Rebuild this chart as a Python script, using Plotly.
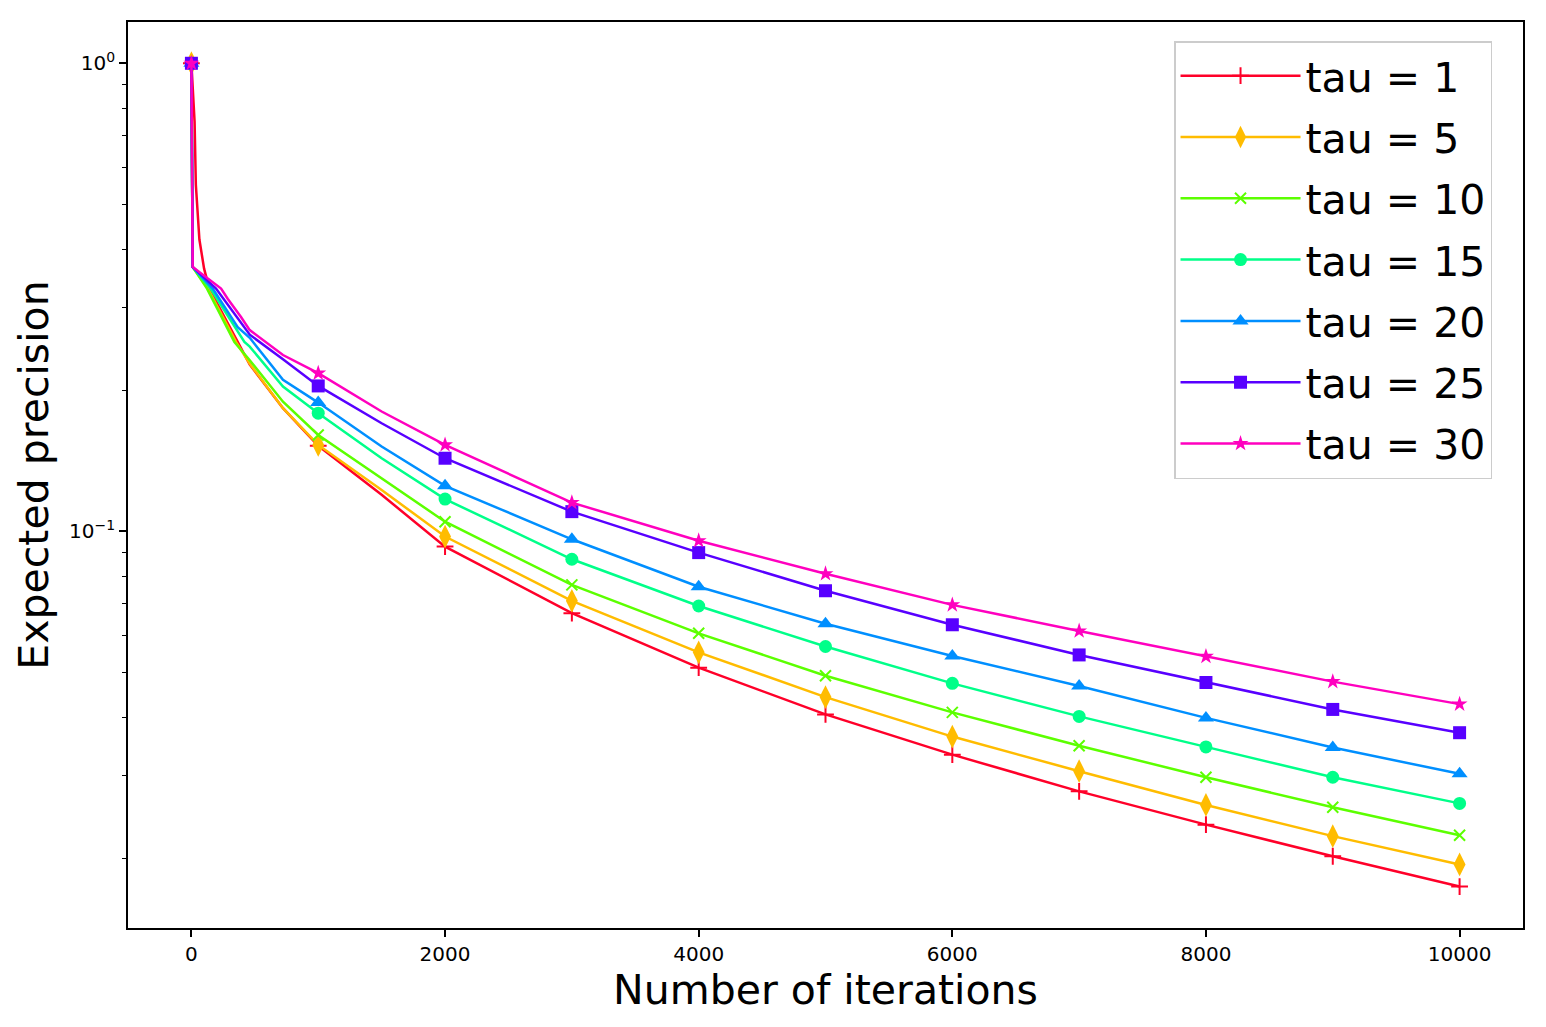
import plotly.graph_objects as go

# ---------------- data ----------------
series_names = ["tau = 1", "tau = 5", "tau = 10", "tau = 15", "tau = 20", "tau = 25", "tau = 30"]

iters_tau1 = [0, 25, 35, 63, 100, 141, 365, 460, 722, 1000, 1500, 2000, 3000, 4000, 5000, 6000, 7000, 8000, 9000, 10000]
prec_tau1 = [1.0, 0.75, 0.55, 0.42, 0.364, 0.33, 0.2538, 0.227, 0.1832, 0.1522, 0.1196, 0.0927,
             0.0668, 0.0511, 0.0406, 0.0333, 0.0278, 0.0236, 0.0202, 0.0174]

iters_tau5 = [0, 10, 130, 352, 460, 722, 1000, 1500, 2000, 3000, 4000, 5000, 6000, 7000, 8000, 9000, 10000]
prec_tau5 = [1.0, 0.367, 0.33, 0.2538, 0.228, 0.1832, 0.1529, 0.1225, 0.0974,
             0.0710, 0.0551, 0.0442, 0.0364, 0.0307, 0.0260, 0.0223, 0.0194]

iters_tau10 = [0, 10, 123, 339, 460, 722, 1000, 1500, 2000, 3000, 4000, 5000, 6000, 7000, 8000, 9000, 10000]
prec_tau10 = [1.0, 0.367, 0.33, 0.2538, 0.232, 0.1891, 0.1606, 0.1298, 0.1048,
              0.0768, 0.0605, 0.0491, 0.0410, 0.0348, 0.0298, 0.0257, 0.0224]

iters_tau15 = [0, 10, 150, 418, 460, 722, 1000, 1500, 2000, 3000, 4000, 5000, 6000, 7000, 8000, 9000, 10000]
prec_tau15 = [1.0, 0.367, 0.33, 0.2538, 0.248, 0.2037, 0.1787, 0.1432, 0.1171,
              0.0871, 0.0692, 0.0567, 0.0473, 0.0402, 0.0346, 0.0298, 0.0262]

iters_tau20 = [0, 10, 168, 365, 460, 722, 1000, 1500, 2000, 3000, 4000, 5000, 6000, 7000, 8000, 9000, 10000]
prec_tau20 = [1.0, 0.367, 0.33, 0.273, 0.259, 0.2106, 0.1883, 0.1517, 0.1250,
              0.0961, 0.0761, 0.0634, 0.0541, 0.0467, 0.0399, 0.0345, 0.0303]

iters_tau25 = [0, 10, 194, 391, 460, 722, 1000, 1500, 2000, 3000, 4000, 5000, 6000, 7000, 8000, 9000, 10000]
prec_tau25 = [1.0, 0.367, 0.33, 0.280, 0.263, 0.2331, 0.2044, 0.1701, 0.1432,
              0.1101, 0.0900, 0.0746, 0.0631, 0.0544, 0.0475, 0.0416, 0.0371]

iters_tau30 = [0, 10, 234, 286, 391, 460, 722, 1000, 1500, 2000, 3000, 4000, 5000, 6000, 7000, 8000, 9000, 10000]
prec_tau30 = [1.0, 0.367, 0.33, 0.314, 0.287, 0.269, 0.238, 0.2176, 0.1802, 0.1529,
              0.1151, 0.0954, 0.0811, 0.0696, 0.0612, 0.0540, 0.0477, 0.0427]

x_tick_vals = [0, 2000, 4000, 6000, 8000, 10000]
x_tick_text = ["0", "2000", "4000", "6000", "8000", "10000"]
y_tick_vals = [0.1, 1.0]
y_tick_text = ["10<sup>\u22121</sup>", "10<sup>0</sup>"]
y_minor_vals = [0.02, 0.03, 0.04, 0.05, 0.06, 0.07, 0.08, 0.09,
                0.2, 0.3, 0.4, 0.5, 0.6, 0.7, 0.8, 0.9]
marker_every = 1000

# ---------------- styles ----------------
colors = ["#ff0029", "#ffbc00", "#5cff00", "#00ff89", "#008fff", "#5800ff", "#ff00bf"]
symbols = ["cross-thin", "diamond-tall", "x-thin", "circle", "triangle-up", "square", "star"]
sizes = [12, 17, 11, 13, 14, 13, 12]
thin = [True, False, True, False, False, False, False]

all_x = [iters_tau1, iters_tau5, iters_tau10, iters_tau15, iters_tau20, iters_tau25, iters_tau30]
all_y = [prec_tau1, prec_tau5, prec_tau10, prec_tau15, prec_tau20, prec_tau25, prec_tau30]

FONT = "DejaVu Sans"
LW = 2.5
fig = go.Figure()

for i, name in enumerate(series_names):
    xs, ys = all_x[i], all_y[i]
    mk = dict(symbol=symbols[i], size=sizes[i], color=colors[i],
              line=dict(color=colors[i], width=2 if thin[i] else 0))
    grp = "g%d" % i
    fig.add_trace(go.Scatter(x=xs, y=ys, mode="lines", line=dict(color=colors[i], width=LW),
                             legendgroup=grp, showlegend=False, hoverinfo="skip"))
    mx = [x for x in xs if x % marker_every == 0]
    my = [y for x, y in zip(xs, ys) if x % marker_every == 0]
    fig.add_trace(go.Scatter(x=mx, y=my, mode="markers", marker=mk,
                             legendgroup=grp, showlegend=False))
    fig.add_trace(go.Scatter(x=[None], y=[None], mode="lines+markers", name=name,
                             line=dict(color=colors[i], width=LW), marker=mk,
                             legendgroup=grp, showlegend=True))

fig.update_layout(
    width=1546, height=1027,
    margin=dict(l=128, r=23, t=22, b=99),
    paper_bgcolor="white", plot_bgcolor="white",
    font=dict(family=FONT, color="black", size=20),
    showlegend=True,
    legend=dict(x=0.9778, y=0.979, xanchor="right", yanchor="top",
                bgcolor="rgba(255,255,255,0.85)", bordercolor="#cccccc", borderwidth=1.5,
                font=dict(family=FONT, size=41, color="black"),
                traceorder="grouped", tracegroupgap=5, itemwidth=120),
    xaxis=dict(range=[-500, 10500], tickvals=x_tick_vals, ticktext=x_tick_text,
               showgrid=False, zeroline=False, showline=True, mirror=True,
               linecolor="black", linewidth=1.6, ticks="outside", ticklen=7, tickwidth=1.6,
               tickcolor="black", tickfont=dict(size=20, family=FONT),
               title=dict(text="Number of iterations", font=dict(size=41, family=FONT), standoff=8)),
    yaxis=dict(type="log", range=[-1.848, 0.0882], tickvals=y_tick_vals, ticktext=y_tick_text,
               showgrid=False, zeroline=False, showline=True, mirror=True,
               linecolor="black", linewidth=1.6, ticks="outside", ticklen=7, tickwidth=1.6,
               tickcolor="black", tickfont=dict(size=20, family=FONT),
               minor=dict(tickmode="array", tickvals=y_minor_vals, ticks="outside",
                          ticklen=4, tickwidth=1.2, tickcolor="black", showgrid=False),
               title=dict(text="Expected precision", font=dict(size=41, family=FONT), standoff=8)),
)

fig.write_html("out.html")
